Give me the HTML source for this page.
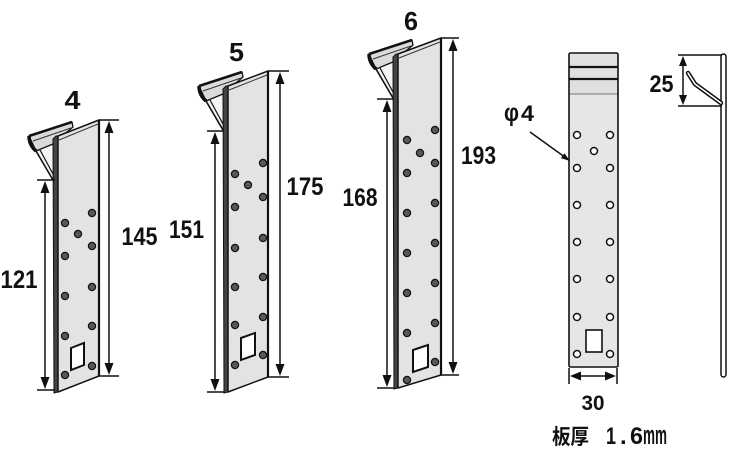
<!DOCTYPE html>
<html><head><meta charset="utf-8"><style>
html,body{margin:0;padding:0;background:#fff;}
svg{display:block}
text{font-family:"Liberation Sans","Noto Sans CJK JP",sans-serif;font-weight:bold;fill:#111}
</style></head><body>
<svg width="750" height="450" viewBox="0 0 750 450" xmlns="http://www.w3.org/2000/svg">
<defs>
<g id="hook">
 <polygon points="-17,14 0,7 0,43" fill="#f4f4f4"/>
 <polygon points="-24,-1 19,-15 20,-10 0,7 -17,14" fill="#dadada" stroke="#111" stroke-width="1.3" stroke-linejoin="round"/>
 <line x1="-24" y1="-1" x2="19" y2="-15" stroke="#111" stroke-width="2.5"/>
 <line x1="-20" y1="4" x2="18" y2="-9" stroke="#333" stroke-width="1"/>
 <path d="M-24,-1 Q-24,8 -17,14" fill="none" stroke="#111" stroke-width="3.5"/>
 <line x1="-17" y1="14" x2="0" y2="43" stroke="#111" stroke-width="1.6"/>
 <line x1="-13" y1="13" x2="0" y2="37" stroke="#111" stroke-width="1.2"/>
</g>
</defs>

<g stroke-linecap="butt">
<!-- ============ Bracket 4 ============ -->
<use href="#hook" transform="translate(53,137)"/>
<polygon points="53,139 56,136 58,136 58,392 54,393" fill="#444" stroke="#111" stroke-width="1"/>
<polygon points="58,136 99,120 99,376 58,392" fill="#e3e3e3" stroke="#111" stroke-width="1.5" stroke-linejoin="round"/>
<line x1="99" y1="120" x2="99" y2="376" stroke="#111" stroke-width="2.2"/>
<line x1="59" y1="140" x2="98" y2="124" stroke="#333" stroke-width="1"/>
<g fill="#585858" stroke="#111" stroke-width="1.2">
 <circle cx="92" cy="213" r="3.6"/><circle cx="92" cy="246" r="3.6"/><circle cx="92" cy="287" r="3.6"/><circle cx="92" cy="326" r="3.6"/><circle cx="92" cy="366" r="3.6"/>
 <circle cx="65" cy="223" r="3.6"/><circle cx="65" cy="256" r="3.6"/><circle cx="65" cy="296" r="3.6"/><circle cx="65" cy="336" r="3.6"/><circle cx="65" cy="375" r="3.6"/>
 <circle cx="78" cy="234" r="3.6"/>
</g>
<polygon points="71,348 84,343 84,365 71,370" fill="#fff" stroke="#111" stroke-width="2"/>
<g stroke="#111" stroke-width="1.5" fill="none">
 <line x1="37" y1="180" x2="55" y2="180"/><line x1="37" y1="390" x2="55" y2="390"/>
 <line x1="45" y1="185" x2="45" y2="385"/>
 <line x1="99" y1="120" x2="119" y2="120"/><line x1="99" y1="376" x2="119" y2="376"/>
 <line x1="109" y1="125" x2="109" y2="371"/>
</g>
<g fill="#111">
 <polygon points="45,181 40.5,193 49.5,193"/><polygon points="45,389 40.5,377 49.5,377"/>
 <polygon points="109,121 104.5,133 113.5,133"/><polygon points="109,375 104.5,363 113.5,363"/>
</g>
<text x="72.5" y="109" font-size="26" text-anchor="middle" textLength="16" lengthAdjust="spacingAndGlyphs">4</text>
<text x="19" y="288" font-size="25" text-anchor="middle" textLength="37" lengthAdjust="spacingAndGlyphs">121</text>
<text x="139.5" y="245" font-size="25" text-anchor="middle" textLength="36" lengthAdjust="spacingAndGlyphs">145</text>

<!-- ============ Bracket 5 ============ -->
<use href="#hook" transform="translate(223,87)"/>
<polygon points="223,89 226,86 228,86 228,392 224,393" fill="#444" stroke="#111" stroke-width="1"/>
<polygon points="228,86 268,71 268,377 228,392" fill="#e3e3e3" stroke="#111" stroke-width="1.5" stroke-linejoin="round"/>
<line x1="268" y1="71" x2="268" y2="377" stroke="#111" stroke-width="2.2"/>
<line x1="229" y1="90" x2="267" y2="75" stroke="#333" stroke-width="1"/>
<g fill="#585858" stroke="#111" stroke-width="1.2">
 <circle cx="263" cy="163" r="3.6"/><circle cx="263" cy="197" r="3.6"/><circle cx="263" cy="238" r="3.6"/><circle cx="263" cy="277" r="3.6"/><circle cx="263" cy="317" r="3.6"/><circle cx="263" cy="355" r="3.6"/>
 <circle cx="235" cy="174" r="3.6"/><circle cx="235" cy="207" r="3.6"/><circle cx="235" cy="248" r="3.6"/><circle cx="235" cy="287" r="3.6"/><circle cx="235" cy="325" r="3.6"/><circle cx="235" cy="365" r="3.6"/>
 <circle cx="248" cy="185" r="3.6"/>
</g>
<polygon points="241,338 255,333 255,355 241,360" fill="#fff" stroke="#111" stroke-width="2"/>
<g stroke="#111" stroke-width="1.5" fill="none">
 <line x1="207" y1="131" x2="224" y2="131"/><line x1="207" y1="392" x2="224" y2="392"/>
 <line x1="215" y1="136" x2="215" y2="387"/>
 <line x1="268" y1="71" x2="289" y2="71"/><line x1="268" y1="377" x2="289" y2="377"/>
 <line x1="280" y1="76" x2="280" y2="372"/>
</g>
<g fill="#111">
 <polygon points="215,132 210.5,144 219.5,144"/><polygon points="215,391 210.5,379 219.5,379"/>
 <polygon points="280,72 275.5,84 284.5,84"/><polygon points="280,376 275.5,364 284.5,364"/>
</g>
<text x="236.5" y="61" font-size="26" text-anchor="middle" textLength="15" lengthAdjust="spacingAndGlyphs">5</text>
<text x="186.5" y="238" font-size="25" text-anchor="middle" textLength="35" lengthAdjust="spacingAndGlyphs">151</text>
<text x="305" y="195" font-size="25" text-anchor="middle" textLength="37" lengthAdjust="spacingAndGlyphs">175</text>

<!-- ============ Bracket 6 ============ -->
<use href="#hook" transform="translate(393,55)"/>
<polygon points="393,57 396,54 398,54 398,388 394,389" fill="#444" stroke="#111" stroke-width="1"/>
<polygon points="398,54 441,38 441,375 398,388" fill="#e3e3e3" stroke="#111" stroke-width="1.5" stroke-linejoin="round"/>
<line x1="441" y1="38" x2="441" y2="375" stroke="#111" stroke-width="2.2"/>
<line x1="399" y1="58" x2="440" y2="42" stroke="#333" stroke-width="1"/>
<g fill="#585858" stroke="#111" stroke-width="1.2">
 <circle cx="435" cy="130" r="3.6"/><circle cx="435" cy="163" r="3.6"/><circle cx="435" cy="203" r="3.6"/><circle cx="435" cy="243" r="3.6"/><circle cx="435" cy="283" r="3.6"/><circle cx="435" cy="323" r="3.6"/><circle cx="435" cy="362" r="3.6"/>
 <circle cx="407" cy="140" r="3.6"/><circle cx="407" cy="173" r="3.6"/><circle cx="407" cy="213" r="3.6"/><circle cx="407" cy="253" r="3.6"/><circle cx="407" cy="293" r="3.6"/><circle cx="407" cy="333" r="3.6"/><circle cx="407" cy="380" r="3.6"/>
 <circle cx="420" cy="153" r="3.6"/>
</g>
<polygon points="413,350 428,345 428,367 413,372" fill="#fff" stroke="#111" stroke-width="2"/>
<g stroke="#111" stroke-width="1.5" fill="none">
 <line x1="377" y1="99" x2="394" y2="99"/><line x1="377" y1="388" x2="394" y2="388"/>
 <line x1="387" y1="104" x2="387" y2="383"/>
 <line x1="441" y1="38" x2="459" y2="38"/><line x1="441" y1="375" x2="459" y2="375"/>
 <line x1="453" y1="43" x2="453" y2="370"/>
</g>
<g fill="#111">
 <polygon points="387,100 382.5,112 391.5,112"/><polygon points="387,387 382.5,375 391.5,375"/>
 <polygon points="453,39 448.5,51 457.5,51"/><polygon points="453,374 448.5,362 457.5,362"/>
</g>
<text x="411" y="30" font-size="26" text-anchor="middle" textLength="14" lengthAdjust="spacingAndGlyphs">6</text>
<text x="360" y="206" font-size="25" text-anchor="middle" textLength="35" lengthAdjust="spacingAndGlyphs">168</text>
<text x="478.5" y="164" font-size="25" text-anchor="middle" textLength="35" lengthAdjust="spacingAndGlyphs">193</text>

<!-- ============ Flat plate ============ -->
<rect x="569" y="53" width="49" height="314" fill="#e6e6e6"/>
<rect x="569" y="53" width="49" height="41" fill="#e0e0e0"/>
<line x1="569" y1="67" x2="618" y2="67" stroke="#111" stroke-width="2.2"/>
<line x1="569" y1="79" x2="618" y2="79" stroke="#111" stroke-width="2.2"/>
<line x1="569" y1="94" x2="618" y2="94" stroke="#777" stroke-width="1"/>
<rect x="569" y="53" width="49" height="314" rx="1.5" fill="none" stroke="#111" stroke-width="1.6"/>
<g fill="#fff" stroke="#111" stroke-width="1.5">
 <circle cx="577" cy="135" r="3.5"/><circle cx="577" cy="168" r="3.5"/><circle cx="577" cy="205" r="3.5"/><circle cx="577" cy="242" r="3.5"/><circle cx="577" cy="279" r="3.5"/><circle cx="577" cy="317" r="3.5"/><circle cx="577" cy="354" r="3.5"/>
 <circle cx="610" cy="135" r="3.5"/><circle cx="610" cy="168" r="3.5"/><circle cx="610" cy="205" r="3.5"/><circle cx="610" cy="242" r="3.5"/><circle cx="610" cy="279" r="3.5"/><circle cx="610" cy="317" r="3.5"/><circle cx="610" cy="354" r="3.5"/>
 <circle cx="594" cy="151" r="3.5"/>
</g>
<rect x="586" y="330" width="16" height="22" fill="#fff" stroke="#111" stroke-width="1.6"/>

<!-- phi 4 leader -->
<line x1="530" y1="132" x2="564" y2="156.5" stroke="#111" stroke-width="1.5"/>
<polygon points="570,161 560.9,158.1 564.5,153.3" fill="#111"/>
<text x="504" y="121" font-size="25" textLength="15" lengthAdjust="spacingAndGlyphs">φ</text>
<text x="521" y="121" font-size="22" textLength="13" lengthAdjust="spacingAndGlyphs">4</text>

<!-- 30 dim -->
<g stroke="#111" stroke-width="1.5">
 <line x1="569" y1="368" x2="569" y2="384"/><line x1="617" y1="368" x2="617" y2="384"/>
 <line x1="574" y1="376" x2="612" y2="376"/>
</g>
<polygon points="570,376 581,371.5 581,380.5" fill="#111"/>
<polygon points="616,376 605,371.5 605,380.5" fill="#111"/>
<text x="593" y="410" font-size="21" text-anchor="middle" textLength="23" lengthAdjust="spacingAndGlyphs">30</text>

<!-- thickness label -->
<text x="552" y="444" font-size="21" textLength="37" lengthAdjust="spacingAndGlyphs" style="font-family:'Noto Sans CJK JP',sans-serif;font-weight:bold">板厚</text>
<text x="606" y="444" font-size="24" textLength="10" lengthAdjust="spacingAndGlyphs">1</text>
<text x="620" y="444" font-size="24">.</text>
<text x="630" y="444" font-size="24" textLength="13" lengthAdjust="spacingAndGlyphs">6</text>
<text transform="translate(643,444) scale(1,1.35)" x="0" y="0" font-size="20" textLength="24" lengthAdjust="spacingAndGlyphs">mm</text>

<!-- ============ Side view ============ -->
<rect x="721" y="54" width="5" height="323" rx="2.5" fill="#fff" stroke="#111" stroke-width="1.5"/>
<path d="M688,73 L695,84 L721,103" fill="none" stroke="#111" stroke-width="4.5" stroke-linecap="round" stroke-linejoin="round"/>
<path d="M688,73 L695,84 L721,103" fill="none" stroke="#fff" stroke-width="1.6" stroke-linecap="round" stroke-linejoin="round"/>
<g stroke="#111" stroke-width="1.5">
 <line x1="678" y1="55" x2="722" y2="55"/><line x1="678" y1="106" x2="722" y2="106"/>
 <line x1="683" y1="60" x2="683" y2="101"/>
</g>
<polygon points="683,56 679,66 687,66" fill="#111"/>
<polygon points="683,105 679,95 687,95" fill="#111"/>
<text x="661.5" y="92" font-size="24" text-anchor="middle" textLength="24" lengthAdjust="spacingAndGlyphs">25</text>
</g>
</svg>
</body></html>
